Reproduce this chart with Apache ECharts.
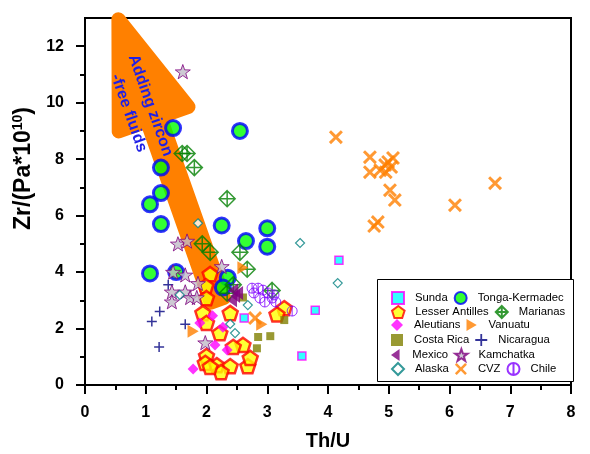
<!DOCTYPE html>
<html>
<head>
<meta charset="utf-8">
<title>Zr/(Pa*10^10) vs Th/U</title>
<script src="https://cdn.jsdelivr.net/npm/echarts@6/dist/echarts.min.js"></script>
<style>html,body{margin:0;padding:0;background:#fff}</style>
</head>
<body>
<div id="chart" style="width:590px;height:454px;"></div>
<script>
// values: [Th/U, Zr/(Pa*10^10)]
var sunda = [[4.18,4.42],[3.79,2.65],[3.57,1.03],[2.62,2.37]];
var tonga = [[1.45,9.1],[2.55,9.0],[1.25,7.7],[1.25,6.8],[1.07,6.4],[1.25,5.7],[2.25,5.65],
  [3.0,5.55],[2.65,5.1],[3.0,4.9],[1.07,3.95],[1.5,4.0],[2.35,3.8],[2.27,3.45]];
var lesser = [[2.06,3.93],[1.99,3.5],[2.0,3.08],[1.94,2.55],[2.39,2.55],[2.0,2.2],[2.22,1.84],
  [2.6,1.42],[2.44,1.35],[2.0,1.03],[1.98,0.78],[2.17,0.7],[2.39,0.67],[2.68,0.67],[2.72,0.96],
  [2.24,0.46],[2.06,0.64],[3.28,2.72],[3.16,2.5]];
var marianas = [[1.6,8.2],[1.68,8.2],[1.8,7.7],[2.34,6.6],[1.93,5.0],[2.06,4.7],[2.55,4.7],
  [2.67,4.1],[3.08,3.35],[2.34,3.25],[2.44,3.55]];
var aleutians = [[1.89,2.2],[2.1,2.45],[2.27,2.05],[2.14,1.42],[2.34,1.24],[1.78,0.57]];
var vanuatu = [[2.6,4.15],[2.91,2.15],[1.78,1.9]];
var costaRica = [[2.6,3.1],[3.28,2.3],[2.85,1.7],[3.05,1.73],[2.83,1.3]];
var nicaragua = [[1.37,3.55],[1.23,2.6],[1.1,2.25],[1.65,2.15],[1.22,1.35]];
var mexico = [[2.44,3.36],[2.47,3.15],[2.42,3.0],[2.52,3.26]];
var kamchatka = [[1.61,11.1],[1.53,5.0],[1.68,5.1],[1.45,4.0],[1.65,3.9],[1.86,3.6],[1.43,3.3],
  [1.65,3.3],[1.73,3.1],[1.43,2.95],[2.25,4.2],[1.84,3.1],[1.98,1.5]];
var alaska = [[1.86,5.73],[1.56,3.19],[3.54,5.03],[4.16,3.61],[2.68,2.83],[2.39,2.16],[2.47,1.84]];
var cvz = [[4.13,8.78],[4.69,8.07],[4.69,7.54],[4.99,7.9],[5.07,8.04],[4.95,7.54],[4.94,7.79],
  [5.04,7.72],[4.86,7.61],[5.02,6.9],[5.1,6.55],[4.82,5.77],[4.76,5.63],[6.09,6.37],[6.75,7.15],[2.8,2.37]];
var chile = [[2.75,3.43],[2.85,3.43],[2.93,3.36],[3.01,3.26],[3.11,3.19],[2.78,3.26],[2.88,3.08],
  [2.96,2.94],[3.08,3.08],[3.14,2.94],[3.41,2.62]];

// trend arrow: tail and tip in data units
var arrowTail = [2.18, 3.0];
var arrowTip = [0.55, 12.96];
var arrowText = 'Adding zircon\n-free fluids';

var legendRows = [
  ['Sunda', 'Tonga-Kermadec'],
  ['Lesser Antilles', 'Marianas'],
  ['Aleutians', 'Vanuatu'],
  ['Costa Rica', 'Nicaragua'],
  ['Mexico', 'Kamchatka'],
  ['Alaska', 'CVZ', 'Chile']
];
var legendTops = [291, 305, 319, 334, 348, 362];

var FONT = 'Liberation Sans, Arial, Helvetica, sans-serif';

var SQUARE = 'path://M0,0H10V10H0Z';
var DIAMOND = 'path://M5,0L10,5L5,10L0,5Z';
var PENTAGON = 'path://M10,0L19.51,6.91L15.88,18.09L4.12,18.09L0.49,6.91Z';
var STAR = 'path://M10,0L12.35,6.76L19.51,6.91L13.8,11.24L15.88,18.09L10,14L4.12,18.09L6.2,11.24L0.49,6.91L7.65,6.76Z';
var PLUS = 'path://M8.5,0H11.5V8.5H20V11.5H11.5V20H8.5V11.5H0V8.5H8.5Z';
var XMARK = 'path://M0,3L3,0L10,7L17,0L20,3L13,10L20,17L17,20L10,13L3,20L0,17L7,10Z';
var DIAMOND_CROSS = 'path://M10,0L20,10L10,20L0,10Z M10,0L10,20 M0,10L20,10';
var CIRCLE_BAR = 'path://M10,0A10,10,0,1,1,10,20A10,10,0,1,1,10,0Z M10,0L10,20';
var TRI_RIGHT = 'path://M0,0L12,7L0,14Z';
var TRI_LEFT = 'path://M10,0L0,7L10,14Z';

function sc(name, data, symbol, size, style) {
  return {
    name: name, type: 'scatter', data: data,
    symbol: symbol, symbolSize: size, symbolKeepAspect: true,
    itemStyle: style, silent: true, z: 3
  };
}

var chart = echarts.init(document.getElementById('chart'));

var legends = legendRows.map(function (row, i) {
  return {
    data: row, left: 391, top: legendTops[i], orient: 'horizontal',
    itemWidth: 24, itemHeight: 12, itemGap: 6, padding: 0,
    selectedMode: false, symbolKeepAspect: true,
    textStyle: { fontSize: 11.3, color: '#000', fontFamily: FONT }
  };
});

var option = {
  animation: false,
  backgroundColor: '#fff',
  grid: { left: 85, right: 19, top: 18, bottom: 69, show: true, borderColor: '#000', borderWidth: 2, outerBoundsMode: 'none' },
  legend: legends,
  graphic: [{
    type: 'rect', shape: { x: 377.5, y: 279.5, width: 196, height: 102 },
    style: { fill: '#fff', stroke: '#000', lineWidth: 1 }, z: 2
  }],
  xAxis: {
    type: 'value', min: 0, max: 8, interval: 1,
    axisLine: { onZero: false, lineStyle: { color: '#000', width: 2 } },
    axisTick: { length: 9, lineStyle: { color: '#000', width: 2 } },
    minorTick: { show: true, splitNumber: 2, length: 5, lineStyle: { color: '#000', width: 2 } },
    splitLine: { show: false },
    axisLabel: { margin: 20, fontSize: 16, fontWeight: 'bold', color: '#000', fontFamily: FONT },
    name: 'Th/U', nameLocation: 'middle', nameGap: 46,
    nameTextStyle: { fontSize: 20, fontWeight: 'bold', color: '#000', fontFamily: FONT }
  },
  yAxis: [{
    type: 'value', min: 0, max: 13, interval: 2,
    axisLine: { onZero: false, lineStyle: { color: '#000', width: 2 } },
    axisTick: { length: 9, customValues: [0, 2, 4, 6, 8, 10, 12], lineStyle: { color: '#000', width: 2 } },
    splitLine: { show: false },
    axisLabel: { margin: 21, customValues: [0, 2, 4, 6, 8, 10, 12], fontSize: 16, fontWeight: 'bold', color: '#000', fontFamily: FONT },
    name: '{b|Zr/(Pa*10}{s|10}{b|)}', nameLocation: 'middle', nameGap: 42,
    nameTextStyle: {
      color: '#000', fontFamily: FONT, padding: [0, 0, 0, 66],
      rich: {
        b: { fontSize: 23, fontWeight: 'bold', color: '#000', fontFamily: FONT },
        s: { fontSize: 14, fontWeight: 'bold', color: '#000', fontFamily: FONT, padding: [0, 0, 11, 0] }
      }
    }
  }, {
    type: 'value', min: 0, max: 13, position: 'left',
    axisLine: { show: false },
    axisTick: { length: 5, customValues: [1, 3, 5, 7, 9, 11], lineStyle: { color: '#000', width: 2 } },
    axisLabel: { show: false },
    splitLine: { show: false }
  }],
  series: [
    {
      type: 'custom', name: 'arrow', clip: false, silent: true, z: 1,
      data: [[arrowTail[0], arrowTail[1], arrowTip[0], arrowTip[1]]],
      encode: { x: [0, 2], y: [1, 3] },
      renderItem: function (params, api) {
        var p0 = api.coord([api.value(0), api.value(1)]);
        var p1 = api.coord([api.value(2), api.value(3)]);
        var dx = p0[0] - p1[0], dy = p0[1] - p1[1];
        var len = Math.sqrt(dx * dx + dy * dy);
        var ux = dx / len, uy = dy / len;      // tip -> tail
        var rx = uy, ry = -ux;                 // perpendicular
        var H = 106, W = 37, S = 7;
        var bx = p1[0] + ux * H, by = p1[1] + uy * H;
        var pts = [
          p1,
          [bx + rx * W, by + ry * W],
          [bx + rx * S, by + ry * S],
          [p0[0] + rx * S, p0[1] + ry * S],
          [p0[0] - rx * S, p0[1] - ry * S],
          [bx - rx * S, by - ry * S],
          [bx - rx * W, by - ry * W]
        ];
        var tx = p1[0] + ux * 92 - rx * 10, ty = p1[1] + uy * 92 - ry * 10;
        return {
          type: 'group',
          children: [{
            type: 'polygon', shape: { points: pts },
            style: { fill: '#ff8000', stroke: '#ff8000', lineWidth: 14, lineJoin: 'round' }
          }, {
            type: 'text', x: tx, y: ty, rotation: -Math.atan2(uy, ux),
            style: {
              text: arrowText, fill: '#1f1fe6', fontSize: 16, fontWeight: 'bold', fontFamily: FONT,
              align: 'center', verticalAlign: 'middle', lineHeight: 23
            }
          }]
        };
      }
    },
    sc('Sunda', sunda, SQUARE, 8, { color: '#00ffff', borderColor: '#ff00ff', borderWidth: 1.5 }),
    sc('Tonga-Kermadec', tonga, 'circle', 15, { color: '#00ff00', borderColor: '#0000ff', borderWidth: 3 }),
    sc('Lesser Antilles', lesser, PENTAGON, 15, { color: '#ffff00', borderColor: '#ff0000', borderWidth: 2.5 }),
    sc('Marianas', marianas, DIAMOND_CROSS, 16, { color: 'rgba(0,0,0,0)', borderColor: '#008000', borderWidth: 1.5 }),
    sc('Aleutians', aleutians, DIAMOND, 11, { color: '#ff00ff' }),
    sc('Vanuatu', vanuatu, TRI_RIGHT, 13, { color: '#ff8000' }),
    sc('Costa Rica', costaRica, SQUARE, 8, { color: '#808000' }),
    sc('Nicaragua', nicaragua, PLUS, 10, { color: '#000080' }),
    sc('Mexico', mexico, TRI_LEFT, 14, { color: '#800080' }),
    sc('Kamchatka', kamchatka, STAR, 15, { color: '#c0bcc8', borderColor: '#800080', borderWidth: 1 }),
    sc('Alaska', alaska, DIAMOND, 9, { color: '#ffffff', borderColor: '#008080', borderWidth: 1.2 }),
    sc('CVZ', cvz, XMARK, 14, { color: '#ff8000' }),
    sc('Chile', chile, CIRCLE_BAR, 10, { color: 'rgba(0,0,0,0)', borderColor: '#8000ff', borderWidth: 1 })
  ]
};

chart.setOption(option);
</script>
</body>
</html>
